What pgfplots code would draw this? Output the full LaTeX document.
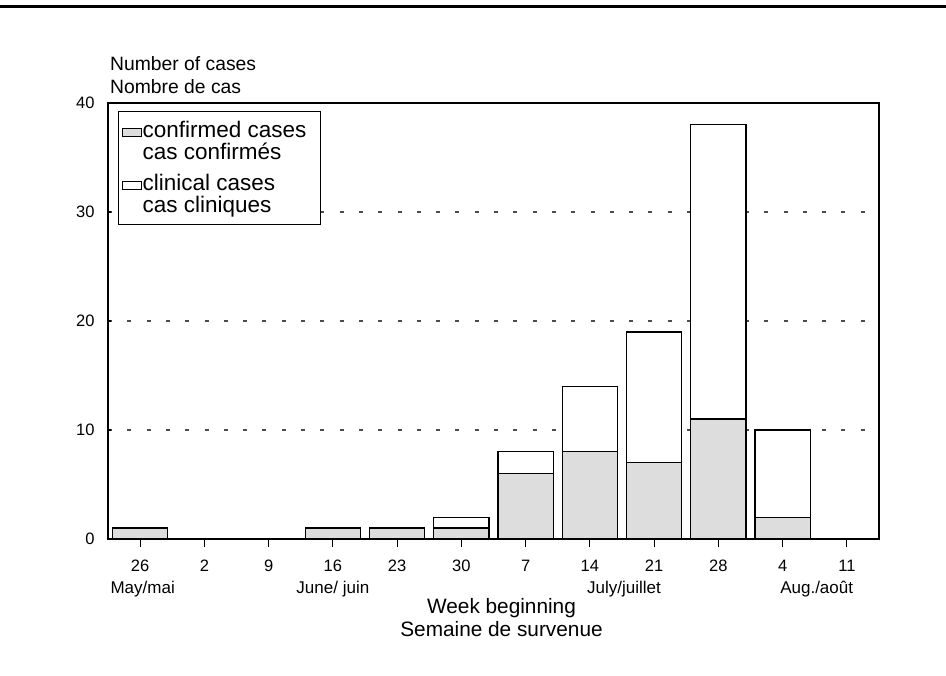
\documentclass[border=0pt]{standalone}
\usepackage{pgfplots}
\pgfplotsset{compat=1.18}
\usepackage{fontspec}
\setmainfont{Liberation Sans}
\definecolor{confgray}{HTML}{DDDDDD}
\begin{document}
\begin{tikzpicture}
\begin{axis}[name=ax, scale only axis, width=771pt, height=436pt,
  xmin=-0.5, xmax=11.5, ymin=0, ymax=40, clip=false,
  ybar stacked, bar width=0.86,
  xtick={0,...,11}, xticklabels={26,2,9,16,23,30,7,14,21,28,4,11},
  ytick={0,10,20,30,40},
  xtick pos=bottom, ytick pos=left,
  xtick align=outside, ytick align=inside,
  major tick length=8pt,
  ytick style={/pgfplots/major tick length=3pt},
  ymajorgrids, grid style={black!70, line width=1.2pt, dash pattern=on 4pt off 15.3pt},
  axis line style={line width=1.3pt},
  tick style={line width=1.2pt, black},
  /pgf/number format/assume math mode=true,
  ticklabel style={font=\fontsize{16.5}{16.5}\selectfont},
  xticklabel style={anchor=north, text height=12pt, text depth=0pt, yshift=-9pt},
  yticklabel style={xshift=-10pt},
  legend cell align=left,
  legend style={at={(0,1)}, anchor=north west, xshift=10pt, yshift=-8pt,
    draw=black, line width=1.1pt, inner xsep=3pt, inner ysep=8pt,
    font=\fontsize{22.5}{22}\selectfont, nodes={align=left, inner xsep=1pt}, row sep=9pt},
  legend image code/.code={\draw[#1, line width=1pt] (0pt,5pt) rectangle (19pt,13pt);},
]
\addplot[fill=confgray, draw=black, line width=1.3pt] coordinates {
  (0,1) (1,0) (2,0) (3,1) (4,1) (5,1) (6,6) (7,8) (8,7) (9,11) (10,2) (11,0)};
\addlegendentry{confirmed cases\hspace*{10pt}\\cas confirmés}
\addplot[fill=white, draw=black, line width=1.3pt] coordinates {
  (0,0) (1,0) (2,0) (3,0) (4,0) (5,1) (6,2) (7,6) (8,12) (9,27) (10,8) (11,0)};
\addlegendentry{clinical cases\\cas cliniques}
\node[font=\fontsize{17}{17}\selectfont] at ([yshift=-50pt]axis cs:0.04,0) {May/mai};
\node[font=\fontsize{17}{17}\selectfont] at ([yshift=-50pt]axis cs:3,0) {June/ juin};
\node[font=\fontsize{17}{17}\selectfont] at ([yshift=-50pt]axis cs:7.53,0) {July/juillet};
\node[font=\fontsize{17}{17}\selectfont] at ([yshift=-50pt]axis cs:10.53,0) {Aug./août};
\end{axis}
\node[align=center, font=\fontsize{20.8}{23}\selectfont] at ([xshift=8pt, yshift=-78.5pt]ax.south) {Week beginning\\Semaine de survenue};
\node[align=left, anchor=west, inner sep=0pt, font=\fontsize{19.3}{23}\selectfont] at ([xshift=2pt, yshift=27.5pt]ax.north west) {Number of cases\\Nombre de cas};
\pgfresetboundingbox
\path[use as bounding box] ([xshift=-108pt, yshift=-137pt]ax.south west) rectangle ([xshift=67pt, yshift=103pt]ax.north east);
\draw[line width=3.5pt] ([xshift=-110pt, yshift=96.5pt]ax.north west) -- ([xshift=70pt, yshift=96.5pt]ax.north east);
\end{tikzpicture}
\end{document}
